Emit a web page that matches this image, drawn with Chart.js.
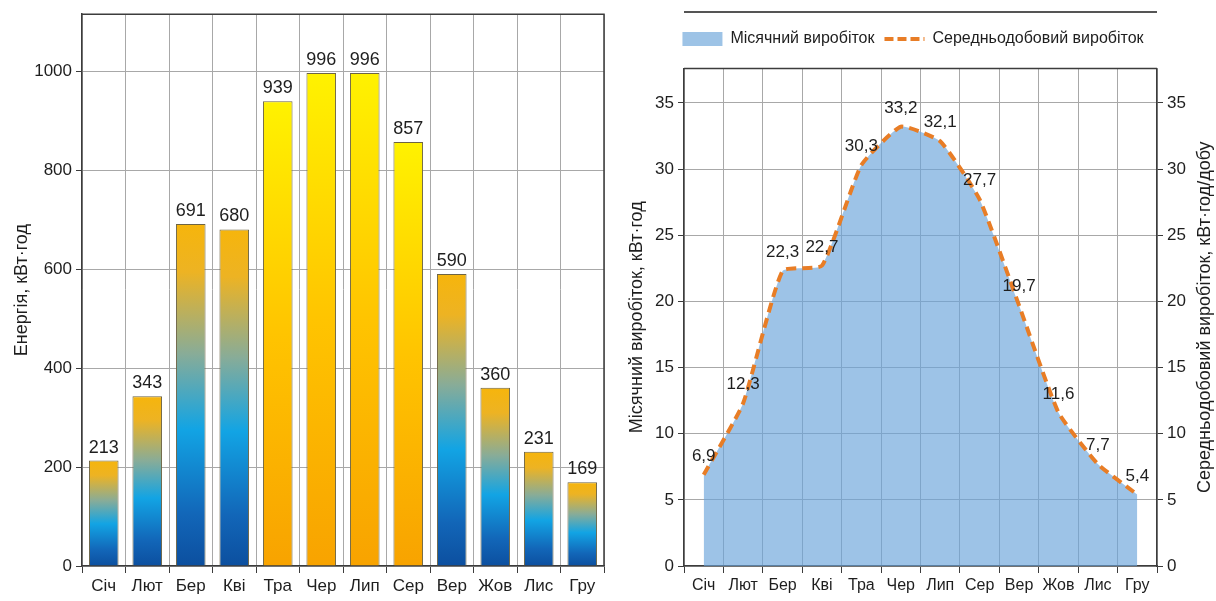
<!DOCTYPE html>
<html>
<head>
<meta charset="utf-8">
<script src="https://cdn.jsdelivr.net/npm/chart.js@4.4.1/dist/chart.umd.min.js"></script>
<style>
  html, body { margin: 0; padding: 0; background: #fff; }
  #left { position: absolute; left: 0; top: 0; }
  #right { position: absolute; left: 610px; top: 0; }
</style>
</head>
<body>
<canvas id="left" width="610" height="601"></canvas>
<canvas id="right" width="606" height="601"></canvas>
<script>
const months = ['Січ', 'Лют', 'Бер', 'Кві', 'Тра', 'Чер', 'Лип', 'Сер', 'Вер', 'Жов', 'Лис', 'Гру'];
const monthlyEnergy = [213, 343, 691, 680, 939, 996, 996, 857, 590, 360, 231, 169];
const dailyAverage = [6.9, 12.3, 22.3, 22.7, 30.3, 33.2, 32.1, 27.7, 19.7, 11.6, 7.7, 5.4];
const summerMonths = ['Тра', 'Чер', 'Лип', 'Сер'];
const energyTicks = [0, 200, 400, 600, 800, 1000];
const dailyTicks = [0, 5, 10, 15, 20, 25, 30, 35];

const narrow = "'Liberation Sans Narrow', 'Arial Narrow', 'Liberation Sans', sans-serif";
const regular = "'Liberation Sans', Arial, sans-serif";
const textColor = '#1e1e1e';
const gridColor = '#a8a8a8';
const axisColor = '#3c3c3c';
const orange = '#e87d26';

Chart.defaults.font.family = narrow;
Chart.defaults.font.size = 17;
Chart.defaults.color = textColor;

function barFill(context) {
    const chart = context.chart;
    if (!chart.chartArea || context.type !== 'data') {
        return '#f5b400';
    }
    const y = chart.scales.y;
    const bottom = y.getPixelForValue(0);
    const top = y.getPixelForValue(context.raw);
    const g = chart.ctx.createLinearGradient(0, bottom, 0, top);
    if (summerMonths.includes(months[context.dataIndex])) {
        g.addColorStop(0, '#f8a300');
        g.addColorStop(0.5, '#ffc400');
        g.addColorStop(1, '#fff200');
    } else {
        g.addColorStop(0, '#0c4f9f');
        g.addColorStop(0.15, '#1266b8');
        g.addColorStop(0.4, '#12a4e4');
        g.addColorStop(0.62, '#88ac98');
        g.addColorStop(0.86, '#edb323');
        g.addColorStop(1, '#f6b50c');
    }
    return g;
}

const plainTick = v => String(v);

// dark frame on top/right of plot + optional rule above legend
const framePlugin = {
    id: 'frame',
    afterDatasetsDraw(chart, args, opts) {
        const {ctx, chartArea: a} = chart;
        ctx.save();
        ctx.strokeStyle = axisColor;
        ctx.lineWidth = 1.5;
        ctx.beginPath();
        ctx.moveTo(a.left, a.top);
        ctx.lineTo(a.right, a.top);
        if (opts.right) {
            ctx.lineTo(a.right, a.bottom);
        }
        ctx.stroke();
        if (opts.ruleY) {
            ctx.lineWidth = 2;
            ctx.strokeStyle = '#555';
            ctx.beginPath();
            ctx.moveTo(a.left, opts.ruleY);
            ctx.lineTo(a.right, opts.ruleY);
            ctx.stroke();
        }
        if (opts.rightTitle) {
            ctx.fillStyle = textColor;
            ctx.font = '18px ' + regular;
            ctx.textAlign = 'center';
            ctx.textBaseline = 'middle';
            ctx.translate(opts.rightTitleX, (a.top + a.bottom) / 2);
            ctx.rotate(-Math.PI / 2);
            ctx.fillText(opts.rightTitle, 0, 0);
        }
        ctx.restore();
    }
};

// value labels above bars / points
const valueLabels = {
    id: 'valueLabels',
    afterDatasetsDraw(chart, args, opts) {
        const ctx = chart.ctx;
        const meta = chart.getDatasetMeta(opts.dataset);
        const data = chart.data.datasets[opts.dataset].data;
        ctx.save();
        ctx.fillStyle = textColor;
        ctx.font = opts.size + 'px ' + narrow;
        ctx.textAlign = 'center';
        ctx.textBaseline = 'alphabetic';
        meta.data.forEach((el, i) => {
            const text = opts.decimals ? data[i].toFixed(1).replace('.', ',') : String(data[i]);
            ctx.fillText(text, el.x, el.y - opts.gap);
        });
        ctx.restore();
    }
};

new Chart(document.querySelector('#left'), {
    type: 'bar',
    data: {
        labels: months,
        datasets: [{
            label: 'Енергія',
            data: monthlyEnergy,
            backgroundColor: barFill,
            borderColor: '#6d6444',
            borderWidth: 1,
            barPercentage: 0.68,
            categoryPercentage: 1
        }]
    },
    options: {
        responsive: false,
        animation: false,
        layout: { padding: { top: 14, right: 6, left: 0, bottom: 0 } },
        plugins: {
            legend: { display: false },
            tooltip: { enabled: false },
            frame: { right: true },
            valueLabels: { dataset: 0, gap: 8, size: 18, decimals: false }
        },
        scales: {
            x: {
                grid: { color: gridColor, tickColor: axisColor, tickLength: 7, offset: true },
                border: { color: axisColor, width: 1.5 },
                ticks: { padding: 3, color: textColor, maxRotation: 0, autoSkip: false },
                afterFit: s => { s.height = 35; }
            },
            y: {
                min: 0,
                max: 1115,
                afterBuildTicks: s => { s.ticks = energyTicks.map(v => ({ value: v })); },
                grid: { color: gridColor, tickColor: axisColor, tickLength: 6 },
                border: { color: axisColor, width: 1.5 },
                ticks: { padding: 4, color: textColor, callback: plainTick },
                title: { display: true, text: 'Енергія, кВт·год', font: { size: 18, family: regular }, padding: { top: 11, bottom: 0 } },
                afterFit: s => { s.width = 82; }
            }
        }
    },
    plugins: [framePlugin, valueLabels]
});

new Chart(document.querySelector('#right'), {
    type: 'line',
    data: {
        labels: months,
        datasets: [{
            label: 'Середньодобовий виробіток',
            data: dailyAverage,
            yAxisID: 'y2',
            fill: false,
            borderColor: orange,
            backgroundColor: orange,
            borderWidth: 4,
            borderDash: [10, 6],
            pointRadius: 0,
            tension: 0.15
        }, {
            label: 'Місячний виробіток',
            data: dailyAverage,
            yAxisID: 'y',
            fill: 'origin',
            backgroundColor: 'rgba(106, 164, 218, 0.66)',
            borderWidth: 0,
            pointRadius: 0,
            tension: 0.15
        }]
    },
    options: {
        responsive: false,
        animation: false,
        layout: { padding: { top: 21, right: 0, left: 0, bottom: 0 } },
        plugins: {
            tooltip: { enabled: false },
            legend: {
                reverse: true,
                labels: {
                    usePointStyle: true,
                    pointStyleWidth: 40,
                    boxHeight: 14,
                    padding: 10,
                    color: textColor,
                    font: { size: 16, family: narrow },
                    generateLabels: chart => {
                        const items = Chart.defaults.plugins.legend.labels.generateLabels(chart);
                        items.forEach(item => {
                            if (item.datasetIndex === 1) {
                                item.pointStyle = 'rect';
                                item.fillStyle = '#9dc3e6';
                                item.lineWidth = 0;
                            } else {
                                item.pointStyle = 'line';
                                item.strokeStyle = orange;
                                item.lineWidth = 4;
                                item.lineDash = [9, 4];
                            }
                        });
                        return items;
                    }
                }
            },
            frame: { right: false, ruleY: 12, rightTitle: 'Середньодобовий виробіток, кВт·год/добу', rightTitleX: 595 },
            valueLabels: { dataset: 0, gap: 14, size: 17, decimals: true }
        },
        scales: {
            x: {
                offset: true,
                grid: { color: gridColor, tickColor: axisColor, tickLength: 7, offset: true },
                border: { color: axisColor, width: 1.5 },
                ticks: { padding: 3, color: textColor, maxRotation: 0, autoSkip: false, font: { size: 16 } },
                afterFit: s => { s.height = 35; }
            },
            spacer: {
                type: 'category',
                position: 'top',
                grid: { display: false },
                ticks: { display: false },
                border: { display: false },
                afterFit: s => { s.height = 11.5; }
            },
            y: {
                position: 'left',
                min: 0,
                max: 37.6,
                afterBuildTicks: s => { s.ticks = dailyTicks.map(v => ({ value: v })); },
                grid: { color: gridColor, tickColor: axisColor, tickLength: 6 },
                border: { color: axisColor, width: 1.5 },
                ticks: { padding: 4, color: textColor, callback: plainTick },
                title: { display: true, text: 'Місячний виробіток, кВт·год', font: { size: 18, family: regular }, padding: { top: 16, bottom: 0 } },
                afterFit: s => { s.width = 74; }
            },
            y2: {
                position: 'right',
                min: 0,
                max: 37.6,
                afterBuildTicks: s => { s.ticks = dailyTicks.map(v => ({ value: v })); },
                grid: { drawOnChartArea: false, tickColor: axisColor, tickLength: 6 },
                border: { color: axisColor, width: 1.5 },
                ticks: { padding: 4, color: textColor, callback: plainTick },
                afterFit: s => { s.width = 59; }
            }
        }
    },
    plugins: [framePlugin, valueLabels]
});
</script>
</body>
</html>
